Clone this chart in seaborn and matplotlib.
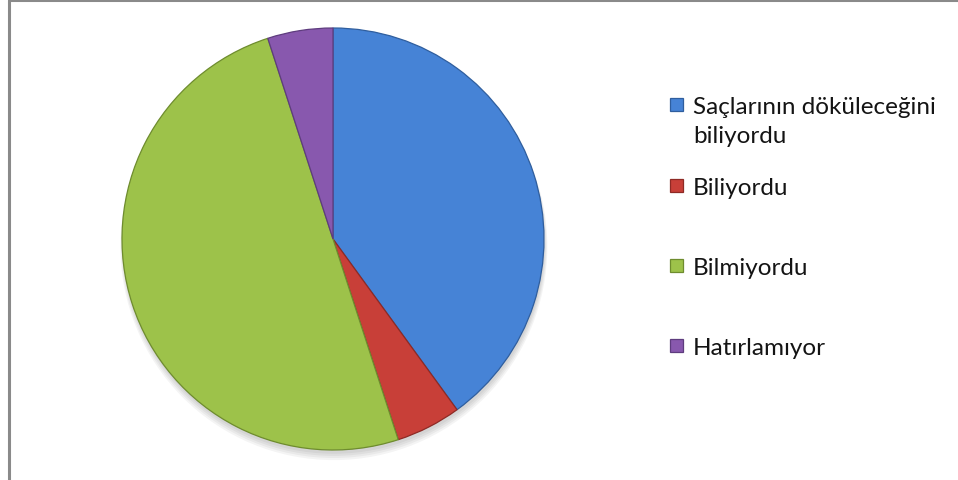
import matplotlib
matplotlib.use("Agg")
import matplotlib.pyplot as plt
from matplotlib.patches import Rectangle, Circle
from matplotlib.lines import Line2D
import seaborn as sns

# Survey answers and their shares (percent)
categories = ["Saçlarının döküleceğini\nbiliyordu", "Biliyordu", "Bilmiyordu", "Hatırlamıyor"]
shares = [40, 5, 50, 5]
slice_colors = ["#4683D6", "#C83F38", "#9DC24A", "#8858AE"]
edge_colors = ["#2F5E9E", "#8E2A25", "#6E8C2E", "#5E3C7E"]

sns.set_theme(style="white")
plt.rcParams["font.family"] = ["Lato", "DejaVu Sans"]

W, H = 958, 481
fig = plt.figure(figsize=(W / 100, H / 100), dpi=100)
fig.patch.set_facecolor("white")

# Pie axes: circle centred at (333, 240) px with radius 211 px
cx, cy, r = 333, 240, 211
ax = fig.add_axes([(cx - r) / W, (H - cy - r) / H, 2 * r / W, 2 * r / H])
ax.set_xlim(-1, 1)
ax.set_ylim(-1, 1)
ax.set_aspect("equal")
ax.axis("off")

# soft drop shadow under the pie
for i in range(4):
    ax.add_patch(Circle((0.004, -0.018 - 0.006 * i), 1.0 + 0.004 * i,
                        color="black", alpha=0.045, lw=0, zorder=0, clip_on=False))

wedges, _ = ax.pie(shares, colors=slice_colors, startangle=90, counterclock=False,
                   radius=1.0, wedgeprops=dict(linewidth=0.9), frame=False)
for w, ec in zip(wedges, edge_colors):
    w.set_edgecolor(ec)
    w.set_zorder(2)
    w.set_clip_on(False)
ax.set_xlim(-1, 1)
ax.set_ylim(-1, 1)

# Legend drawn as swatches and labels on the right
legend_rows = [105, 186, 266, 346]
sx, tx, sq = 670, 693, 13
line_step = 29
for lab, col, ec, y in zip(categories, slice_colors, edge_colors, legend_rows):
    fig.add_artist(Rectangle((sx / W, (H - y - sq / 2) / H), sq / W, sq / H,
                             transform=fig.transFigure, facecolor=col,
                             edgecolor=ec, linewidth=0.9))
    for k, line in enumerate(lab.split("\n")):
        base = y + 9 + k * line_step
        fig.text(tx / W, (H - base) / H, line, ha="left", va="baseline",
                 fontsize=17.5, color="#141414")

# chart frame: top and left borders
fig.add_artist(Line2D([9 / W, 9 / W], [0, 1 - 1 / H], transform=fig.transFigure,
                      color="#8a8a8a", linewidth=2.2))
fig.add_artist(Line2D([9 / W, 1], [1 - 1 / H, 1 - 1 / H], transform=fig.transFigure,
                      color="#8a8a8a", linewidth=2.2))

fig.savefig("out.png", dpi=100, facecolor="white")
